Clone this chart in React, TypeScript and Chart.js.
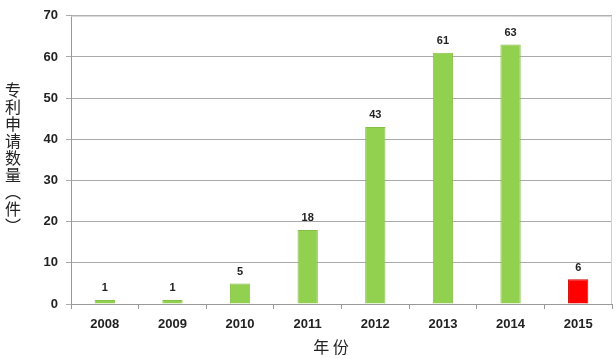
import React, { useEffect, useRef } from "react";
import { Chart, registerables } from "chart.js";

Chart.register(...registerables);

const years = ["2008", "2009", "2010", "2011", "2012", "2013", "2014", "2015"];
const patentCounts = [1, 1, 5, 18, 43, 61, 63, 6];
const barColors = ["#92D050", "#92D050", "#92D050", "#92D050", "#92D050", "#92D050", "#92D050", "#FF0000"];
const yTitleChars = ["专", "利", "申", "请", "数", "量", "︵", "件", "︶"];
const xTitle = "年 份";

const overlayPlugin = {
  id: "overlay",
  afterDatasetsDraw(chart: any) {
    const { ctx, chartArea } = chart;
    ctx.save();
    // border top and right
    ctx.strokeStyle = "#d0d0d0";
    ctx.lineWidth = 1;
    ctx.beginPath();
    ctx.moveTo(chartArea.left, chartArea.top + 0.5);
    ctx.lineTo(chartArea.right - 0.5, chartArea.top + 0.5);
    ctx.lineTo(chartArea.right - 0.5, chartArea.bottom);
    ctx.stroke();
    // data labels
    const meta = chart.getDatasetMeta(0);
    ctx.fillStyle = "#222";
    ctx.font = "bold 11px 'Liberation Sans', Arial, sans-serif";
    ctx.textAlign = "center";
    ctx.textBaseline = "bottom";
    meta.data.forEach((bar: any, i: number) => {
      ctx.fillText(String(patentCounts[i]), bar.x, bar.y - 6);
    });
    // y title stacked
    ctx.font = "16px 'Noto Sans CJK SC', sans-serif";
    ctx.textBaseline = "middle";
    ctx.fillStyle = "#222";
    const startY = 90;
    const step = 17;
    yTitleChars.forEach((c, i) => {
      ctx.fillText(c, 13, startY + i * step);
    });
    // x title
    ctx.font = "16px 'Noto Sans CJK SC', sans-serif";
    ctx.fillText(xTitle, 331, 347);
    ctx.restore();
  },
};

export default function App() {
  const ref = useRef<HTMLCanvasElement>(null);
  useEffect(() => {
    if (!ref.current) return;
    const chart = new Chart(ref.current, {
      type: "bar",
      data: {
        labels: years,
        datasets: [
          {
            data: patentCounts,
            backgroundColor: barColors,
            borderColor: barColors.map((c) => (c === "#FF0000" ? "#D00000" : "#86C044")),
            borderWidth: 1,
            barPercentage: 0.3,
            categoryPercentage: 1,
          },
        ],
      },
      options: {
        animation: false,
        responsive: false,
        maintainAspectRatio: false,
        layout: { padding: { left: 0, right: 4, top: 10, bottom: 0 } },
        plugins: { legend: { display: false }, tooltip: { enabled: false } },
        scales: {
          x: {
            afterFit: (s: any) => {
              s.height = 54;
            },
            grid: {
              drawOnChartArea: false,
              drawTicks: true,
              tickLength: 5,
              offset: true,
              color: "#999",
            },
            border: { color: "#999" },
            ticks: {
              color: "#222",
              padding: 8,
              font: { family: "'Liberation Sans', Arial, sans-serif", size: 13, weight: "bold" },
            },
          },
          y: {
            min: 0,
            max: 70,
            afterFit: (s: any) => {
              s.width = 71;
            },
            grid: { color: "#aaa", tickLength: 5 },
            border: { color: "#999" },
            ticks: {
              stepSize: 10,
              color: "#222",
              padding: 8,
              font: { family: "'Liberation Sans', Arial, sans-serif", size: 13, weight: "bold" },
            },
          },
        },
      },
      plugins: [overlayPlugin],
    });
    return () => chart.destroy();
  }, []);
  return (
    <div style={{ position: "fixed", left: 0, top: 0, width: 616, height: 358, background: "#fff" }}>
      <canvas ref={ref} width={616} height={358} style={{ width: 616, height: 358 }} />
    </div>
  );
}
